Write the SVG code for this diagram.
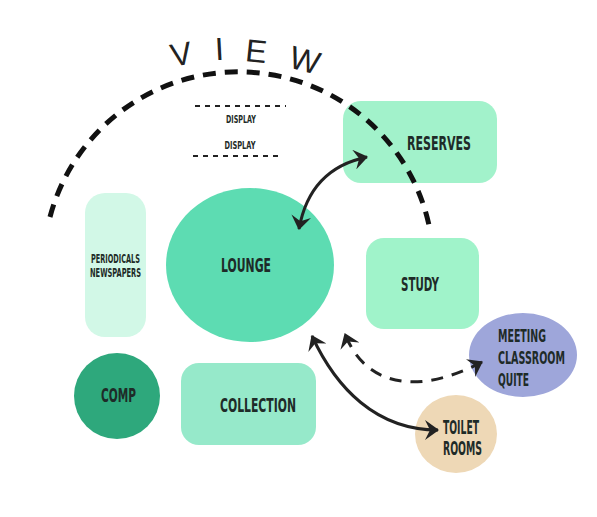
<svg xmlns="http://www.w3.org/2000/svg" width="597" height="517" viewBox="0 0 597 517">
<defs>
<style>
.lbl{font-family:"DejaVu Sans","Liberation Sans",sans-serif;font-weight:bold;fill:#1e2b28;font-stretch:condensed}
.view{font-family:"Liberation Sans","DejaVu Sans",sans-serif;font-size:32px;font-weight:normal;fill:#222;text-anchor:middle}
.conn{fill:none;stroke:#222;stroke-width:3}
.dash{stroke-dasharray:12 9}
</style>
<marker id="ah" viewBox="0 0 14 20" refX="13" refY="10" markerWidth="14" markerHeight="20" orient="auto-start-reverse" markerUnits="userSpaceOnUse">
<path d="M0,0 L14,10 L0,20 L5,10 z" fill="#222"/>
</marker>
</defs>
<rect width="597" height="517" fill="#fff"/>

<g id="display">
<line x1="195" y1="106" x2="286" y2="106" stroke="#222" stroke-width="2" stroke-dasharray="5 5"/>
<text class="lbl" x="241" y="123" font-size="11" text-anchor="middle" textLength="30" lengthAdjust="spacingAndGlyphs" fill="#333">DISPLAY</text>
<text class="lbl" x="240" y="149" font-size="11" text-anchor="middle" textLength="31" lengthAdjust="spacingAndGlyphs" fill="#333">DISPLAY</text>
<line x1="193" y1="156" x2="283" y2="156" stroke="#222" stroke-width="2" stroke-dasharray="5 5"/>
</g>

<g id="reserves">
<rect x="343" y="101" width="154" height="82" rx="18" fill="#a2f2cb"/>
<text class="lbl" font-size="20" x="407" y="150" textLength="64" lengthAdjust="spacingAndGlyphs">RESERVES</text>
</g>

<g id="view">
<path d="M 50 217 A 195 195 0 0 1 430 230" fill="none" stroke="#111" stroke-width="5" stroke-dasharray="13 9"/>
<text class="view" transform="translate(183,65) rotate(-10)">V</text>
<text class="view" transform="translate(220,60) rotate(-3)">I</text>
<text class="view" transform="translate(255,62) rotate(6)">E</text>
<text class="view" transform="translate(302,71) rotate(15)">W</text>
</g>

<g id="periodicals">
<rect x="85" y="193" width="61" height="144" rx="20" fill="#d2f8e7"/>
<text class="lbl" font-size="12" x="91" y="263" textLength="49" lengthAdjust="spacingAndGlyphs">PERIODICALS</text>
<text class="lbl" font-size="12" x="90" y="277" textLength="51" lengthAdjust="spacingAndGlyphs">NEWSPAPERS</text>
</g>

<g id="lounge">
<ellipse cx="250" cy="265" rx="84" ry="77" fill="#5ddcb2"/>
<text class="lbl" font-size="20" x="221" y="272" textLength="50" lengthAdjust="spacingAndGlyphs">LOUNGE</text>
</g>

<g id="study">
<rect x="366" y="238" width="113" height="91" rx="18" fill="#a0f3ca"/>
<text class="lbl" font-size="20" x="401" y="291" textLength="38" lengthAdjust="spacingAndGlyphs">STUDY</text>
</g>

<g id="comp">
<circle cx="117" cy="396" r="43" fill="#2ea87c"/>
<text class="lbl" font-size="20" x="101" y="402" textLength="35" lengthAdjust="spacingAndGlyphs">COMP</text>
</g>

<g id="collection">
<rect x="181" y="363" width="135" height="82" rx="18" fill="#96e9ca"/>
<text class="lbl" font-size="20" x="220" y="412" textLength="76" lengthAdjust="spacingAndGlyphs">COLLECTION</text>
</g>

<g id="meeting">
<ellipse cx="523" cy="355" rx="54" ry="42" fill="#9ea6da"/>
<text class="lbl" font-size="18" x="498" y="342" textLength="48" lengthAdjust="spacingAndGlyphs">MEETING</text>
<text class="lbl" font-size="18" x="498" y="364" textLength="67" lengthAdjust="spacingAndGlyphs">CLASSROOM</text>
<text class="lbl" font-size="18" x="498" y="386" textLength="31" lengthAdjust="spacingAndGlyphs">QUITE</text>
</g>

<g id="toilet">
<ellipse cx="456" cy="434" rx="41" ry="39" fill="#eed8b6"/>
<text class="lbl" font-size="19" x="443" y="434" textLength="36" lengthAdjust="spacingAndGlyphs">TOILET</text>
<text class="lbl" font-size="19" x="443" y="455" textLength="39" lengthAdjust="spacingAndGlyphs">ROOMS</text>
</g>

<g id="connectors">
<path class="conn" d="M 299 229 C 306 190, 328 165, 367 157" marker-start="url(#ah)" marker-end="url(#ah)"/>
<path class="conn" d="M 312 336 C 336 388, 376 430, 438 430" marker-start="url(#ah)" marker-end="url(#ah)"/>
<path class="conn dash" d="M 482 362 C 425 392, 368 392, 345 334" marker-start="url(#ah)" marker-end="url(#ah)"/>
</g>
</svg>
